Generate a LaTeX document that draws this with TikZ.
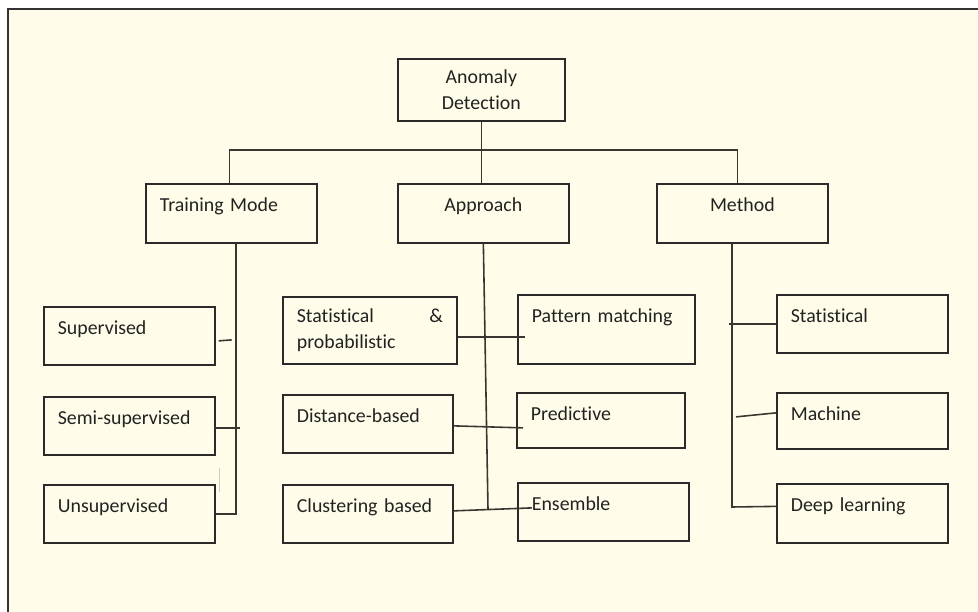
\documentclass[tikz,border=0pt]{standalone}
\usepackage{fontspec}
\setmainfont{Carlito}[Ligatures=NoCommon]
\definecolor{cream}{HTML}{FFFDE9}
\definecolor{boxline}{HTML}{2A2A2A}
\definecolor{linkc}{HTML}{3A3530}
\definecolor{txt}{HTML}{222222}
\newcommand\boxfont{\fontsize{11.3}{14.5}\selectfont}
\begin{document}
\begin{tikzpicture}[x=0.02cm,y=-0.02cm,
    box/.style={draw=boxline,line width=1pt,rectangle,anchor=north west,
      inner xsep=0.28cm,inner ysep=0pt,text width=2.86cm,align=left,
      text height=0.56cm,text depth=0.60cm,font=\boxfont,text=txt},
    link/.style={draw=linkc,line width=0.9pt}]
  \useasboundingbox (0,0) rectangle (978,612);
  \fill[white] (0,0) rectangle (978,612);
  \fill[cream] (8,9) rectangle (978,612);
  \draw[black!80,line width=0.6pt] (8,612) -- (8,9) -- (978,9);
  % top levels
  \node[box,align=center,text width=2.78cm,text height=,text depth=,minimum height=1.24cm] (ad) at (397,58) {Anomaly\\Detection};
  \node[box,text depth=0.62cm] (tm) at (145,183) {Training Mode};
  \node[box,align=center,text depth=0.62cm] (ap) at (397,183) {Approach};
  \node[box,align=center,text depth=0.62cm] (me) at (656,183) {Method};
  \coordinate (bus) at (480,150);
  \draw[link] (ad.south) -- (ad.south |- ap.north);
  \draw[link] ([shift={(-2,0)}]tm.north) |- (bus) -| ([shift={(-5,0)}]me.north);
  % training mode
  \node[box] (su) at (43,306) {Supervised};
  \node[box] (se) at (43,396) {Semi-supervised};
  \node[box] (un) at (43,484) {Unsupervised};
  \coordinate (tmend) at (236,514);
  \draw[link] (tm.south -| tmend) -- (tmend) -- (un.east |- tmend);
  \draw[link] ([shift={(-2,2)}]se.east) -- ([shift={(4,2)}]se.east -| tmend);
  \draw[link] ([shift={(3,5)}]su.east) -- ([shift={(16,4)}]su.east);
  \draw[gray!40,line width=0.8pt] ([shift={(4,-16)}]un.north east) -- ([shift={(4,8)}]un.north east);
  % approach
  \node[box,text width=2.92cm,text height=,text depth=,minimum height=1.34cm] (sp) at (282,296) {Statistical \hfill \&\\probabilistic};
  \node[box,text width=2.98cm,text depth=0.82cm] (pm) at (517,294) {Pattern matching};
  \node[box,text width=2.84cm] (db) at (282,394) {Distance-based};
  \node[box,text width=2.80cm,text depth=0.54cm] (pr) at (516,392) {Predictive};
  \node[box,text width=2.84cm] (cb) at (282,484) {Clustering based};
  \node[box] (en) at (517,482) {Ensemble};
  \coordinate (apend) at (488,509);
  \draw[link] (ap.south) -- (apend);
  \draw[link] ([shift={(0,6.5)}]sp.east) -- ([shift={(8,7.5)}]pm.west);
  \draw[link] ([shift={(0,2)}]db.east) -- ([shift={(7,7.5)}]pr.west);
  \draw[link] ([shift={(0,-3)}]cb.east) -- ([shift={(15,-4)}]en.west);
  % method
  \node[box] (st) at (776,294) {Statistical};
  \node[box,text depth=0.56cm] (ma) at (776,392) {Machine};
  \node[box,text depth=0.62cm] (dl) at (776,483) {Deep learning};
  \coordinate (meend) at (732,507);
  \draw[link] (me.south -| meend) -- (meend) -- ([shift={(0,-7)}]dl.west);
  \draw[link] (st.west) -- ([shift={(-3,0)}]st.west -| meend);
  \draw[link] ([shift={(0,-8)}]ma.west) -- ([shift={(4,-4)}]ma.west -| meend);
\end{tikzpicture}
\end{document}
